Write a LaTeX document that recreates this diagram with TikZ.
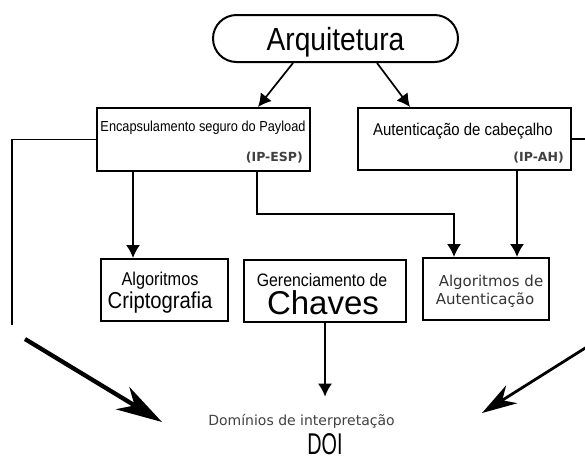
\documentclass[tikz,border=0pt]{standalone}
\usepackage{fontspec}
\setmainfont{Liberation Sans}[FakeStretch=0.88]
\newfontfamily\chavesfont{Liberation Sans}
\newfontfamily\doifont{Liberation Sans}[FakeStretch=0.66]
\newfontfamily\dejavu{DejaVu Sans}
\usetikzlibrary{arrows.meta}
\newcommand\tam[1]{\fontsize{#1}{#1}\selectfont}
\tikzset{
  % Ponta das setas
  >={Latex[length=13pt, width=14pt]},
  % Caixa retangular
  caixa/.style={draw, line width=2pt, inner sep=0pt},
  % Caixa oval
  oval/.style={caixa, rounded corners=23.5pt},
  % Texto posto pela linha de base
  texto/.style={inner sep=0pt, anchor=base},
  % Rotulo do protocolo
  rotulo/.style={texto, anchor=base east, font=\dejavu\bfseries\tam{12.5},
    text=black!75},
  % Texto em DejaVu
  dtexto/.style={texto, font=\dejavu\tam{15}, text=black!80},
  % Ligacoes
  lig/.style={->, line width=1.7pt},
  linha/.style={line width=1.9pt},
  % Setas grandes
  setag/.style={line width=4.3pt, -{Stealth[length=46pt, width=26pt, inset=14pt]}},
  setam/.style={line width=2.8pt, -{Stealth[length=35pt, width=21pt, inset=11pt]}},
}

\begin{document}
\begin{tikzpicture}[x=1pt, y=-1pt]
  \useasboundingbox (0,0) rectangle (585,459);

  % Topo
  \node[oval, minimum width=245pt, minimum height=47pt, text height=23pt,
    text depth=0pt] (arq) at (335.5,38.5) {\tam{32}Arquitetura};

  % Protocolos
  \node[caixa, minimum width=213pt, minimum height=63pt] (esp) at (203.5,139.5) {};
  \node[texto] (esptit) at (203,131) {\tam{14.5}Encapsulamento seguro do Payload};
  \node[rotulo] (esptag) at (303,161) {(IP-ESP)};

  \node[caixa, minimum width=213pt, minimum height=62pt] (ah) at (464.5,139) {};
  \node[texto] (ahtit) at (463,135) {\tam{17}Autenticação de cabeçalho};
  \node[rotulo] (ahtag) at (564,161) {(IP-AH)};

  % Algoritmos e chaves
  \node[caixa, minimum width=127pt, minimum height=62pt] (cripto) at (164.5,290) {};
  \node[texto] (cripto1) at (160,285) {\tam{18.5}Algoritmos};
  \node[texto] (cripto2) at (160,308) {\tam{23}Criptografia};

  \node[caixa, minimum width=162pt, minimum height=62pt] (ger) at (325,291) {};
  \node[texto] (ger1) at (322,286) {\tam{18}Gerenciamento de};
  \node[texto] (ger2) at (323,314) {\chavesfont\tam{33}Chaves};

  \node[caixa, minimum width=126pt, minimum height=62pt] (auth) at (486,289) {};
  \node[dtexto] (auth1) at (491,286) {Algoritmos de};
  \node[dtexto] (auth2) at (485,304) {Autenticação};

  % DOI
  \node[texto, font=\dejavu\tam{14}, text=black!75] (dom) at (301.5,425)
    {Domínios de interpretação};
  \node[texto] (doi) at (325,454) {\doifont\tam{30}DOI};

  % Ligacoes
  \draw[lig] ([xshift=-42.5pt]arq.south) -- ([xshift=54.5pt]esp.north);
  \draw[lig] ([xshift=41.5pt]arq.south) -- ([xshift=-54.5pt]ah.north);

  \coordinate (cantoE) at (12,325);
  \draw[linha] (esp.west) -| (cantoE);
  \coordinate (bordaD) at (590,139);
  \draw[linha] (ah.east) -- (bordaD);

  \draw[lig] ([xshift=-70.5pt]esp.south) coordinate (e1) -- (e1 |- cripto.north);
  \draw[lig] ([xshift=53.5pt]esp.south) -- ++(0,42) -| ([xshift=-32pt]auth.north);
  \draw[lig] ([xshift=52.5pt]ah.south) coordinate (a1) -- (a1 |- auth.north);
  \draw[lig, shorten >=17pt] (ger.south) -- (ger.south |- dom.north);

  % Setas grandes
  \coordinate (se0) at (25,339);
  \coordinate (se1) at (162,422);
  \draw[setag] (se0) -- (se1);
  \coordinate (sd0) at (590,345);
  \coordinate (sd1) at (482,413);
  \draw[setam] (sd0) -- (sd1);
\end{tikzpicture}
\end{document}
